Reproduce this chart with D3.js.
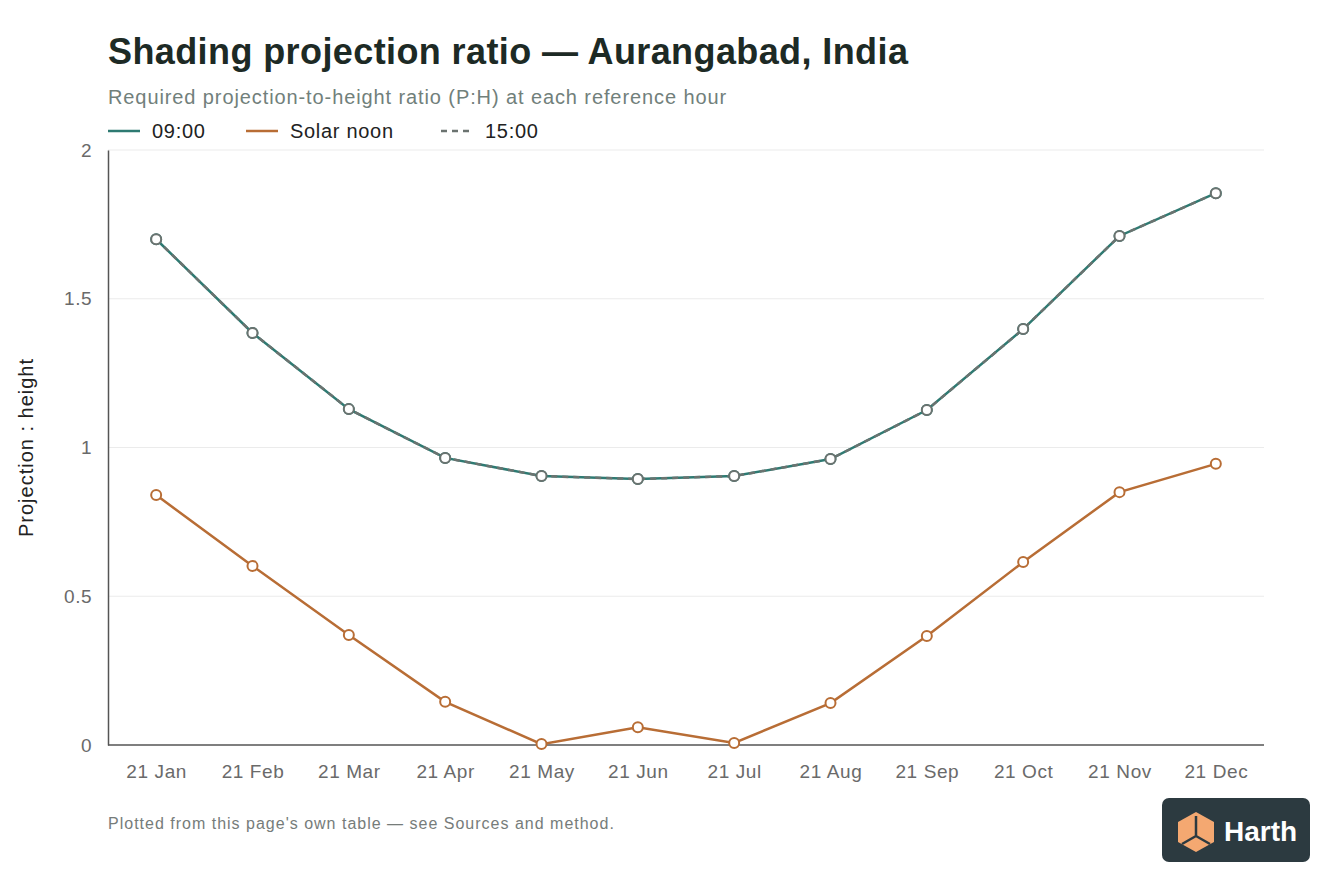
<!DOCTYPE html>
<html>
<head>
<meta charset="utf-8">
<script src="https://cdn.jsdelivr.net/npm/d3@7"></script>
<style>
  body { margin: 0; background: #fff; }
  svg { font-family: "Liberation Sans", Arial, Helvetica, sans-serif; }
</style>
</head>
<body>
<div id="chart"></div>
<script>
var months = ["21 Jan", "21 Feb", "21 Mar", "21 Apr", "21 May", "21 Jun", "21 Jul", "21 Aug", "21 Sep", "21 Oct", "21 Nov", "21 Dec"];
var morning = [1.70, 1.385, 1.129, 0.965, 0.904, 0.894, 0.904, 0.961, 1.126, 1.398, 1.711, 1.855];
var noon = [0.840, 0.602, 0.370, 0.145, 0.003, 0.060, 0.007, 0.141, 0.366, 0.615, 0.850, 0.945];
var afternoon = [1.70, 1.385, 1.129, 0.965, 0.904, 0.894, 0.904, 0.961, 1.126, 1.398, 1.711, 1.855];
var yTicks = [0, 0.5, 1, 1.5, 2];

var width = 1344, height = 896;
var margin = {top: 150, right: 80, bottom: 151, left: 108};

var svg = d3.select("#chart").append("svg")
    .attr("width", width).attr("height", height);

var x = d3.scalePoint().domain(months)
    .range([margin.left, width - margin.right]).padding(0.5);
var y = d3.scaleLinear().domain([0, 2])
    .range([height - margin.bottom, margin.top]);

// titles
svg.append("text").attr("x", 108).attr("y", 64)
    .style("font-size", "36px").style("font-weight", "bold").style("fill", "#1d2a25")
    .style("letter-spacing", "0.4px")
    .text("Shading projection ratio — Aurangabad, India");
svg.append("text").attr("x", 108).attr("y", 104)
    .style("font-size", "20px").style("fill", "#71807b")
    .style("letter-spacing", "0.9px")
    .text("Required projection-to-height ratio (P:H) at each reference hour");

// legend
var legend = [
    {name: "09:00", color: "#2e7a72", dash: null, x: 108},
    {name: "Solar noon", color: "#b86d35", dash: null, x: 246},
    {name: "15:00", color: "#6b7370", dash: "6,5", x: 441}
];
legend.forEach(function(l) {
    svg.append("line").attr("x1", l.x).attr("x2", l.x + 32).attr("y1", 131).attr("y2", 131)
        .attr("stroke", l.color).attr("stroke-width", 2.5).attr("stroke-dasharray", l.dash);
    svg.append("text").attr("x", l.x + 44).attr("y", 138)
        .style("font-size", "20px").style("fill", "#222")
        .style("letter-spacing", "0.7px")
        .text(l.name);
});

// grid
svg.append("g").selectAll("line").data(yTicks.slice(1)).enter().append("line")
    .attr("x1", margin.left).attr("x2", width - margin.right)
    .attr("y1", function(d) { return y(d); }).attr("y2", function(d) { return y(d); })
    .attr("stroke", "#ebebeb").attr("stroke-width", 1.2);

// axes
var yAxis = svg.append("g").attr("transform", "translate(" + margin.left + ",0)")
    .call(d3.axisLeft(y).tickValues(yTicks).tickSize(0).tickPadding(16).tickFormat(d3.format("~g")));
yAxis.select(".domain").attr("stroke", "#555").attr("stroke-width", 1.5);
yAxis.selectAll("text").style("font-size", "19px").style("fill", "#6a6a6a")
    .style("font-family", "inherit").style("letter-spacing", "0.5px");

var xAxis = svg.append("g").attr("transform", "translate(0," + y(0) + ")")
    .call(d3.axisBottom(x).tickSize(0).tickPadding(20));
xAxis.select(".domain").attr("stroke", "#555").attr("stroke-width", 1.5)
    .attr("d", "M" + margin.left + ",0H" + (width - margin.right));
xAxis.selectAll("text").style("font-size", "19px").style("fill", "#6a6a6a")
    .style("font-family", "inherit").style("letter-spacing", "0.6px");

svg.append("text")
    .attr("transform", "translate(33," + y(1) + ") rotate(-90)")
    .attr("text-anchor", "middle")
    .style("font-size", "20px").style("fill", "#222")
    .style("letter-spacing", "1px")
    .text("Projection : height");

// series
var line = d3.line()
    .x(function(d, i) { return x(months[i]); })
    .y(function(d) { return y(d); });

var series = [
    {values: morning, color: "#2e7a72", dash: null},
    {values: noon, color: "#b86d35", dash: null},
    {values: afternoon, color: "#6b7370", dash: "6,5"}
];
series.forEach(function(s) {
    svg.append("path").datum(s.values)
        .attr("d", line).attr("fill", "none")
        .attr("stroke", s.color).attr("stroke-width", 2.5)
        .attr("stroke-dasharray", s.dash);
});
series.forEach(function(s) {
    svg.append("g").selectAll("circle").data(s.values).enter().append("circle")
        .attr("cx", function(d, i) { return x(months[i]); })
        .attr("cy", function(d) { return y(d); })
        .attr("r", 5)
        .attr("fill", "#fff").attr("stroke", s.color).attr("stroke-width", 2);
});

// footnote
svg.append("text").attr("x", 108).attr("y", 829)
    .style("font-size", "16px").style("fill", "#767c7a")
    .style("letter-spacing", "1px")
    .text("Plotted from this page's own table — see Sources and method.");

// logo
var logo = svg.append("g").attr("transform", "translate(1162,798)");
logo.append("rect").attr("width", 148).attr("height", 64).attr("rx", 7).attr("fill", "#2c3a40");
var cube = logo.append("g").attr("transform", "translate(16,14)");
cube.append("path").attr("d", "M18,0 L36,10 L36,30 L18,40 L0,30 L0,10 Z").attr("fill", "#f4a871");
cube.append("path").attr("d", "M18,4 L18,24 M18,24 L4,32 M18,24 L32,32")
    .attr("stroke", "#2c3a40").attr("stroke-width", 2.5).attr("fill", "none");
logo.append("text").attr("x", 62).attr("y", 43)
    .style("font-size", "28px").style("font-weight", "bold").style("fill", "#fff")
    .text("Harth");
</script>
</body>
</html>
